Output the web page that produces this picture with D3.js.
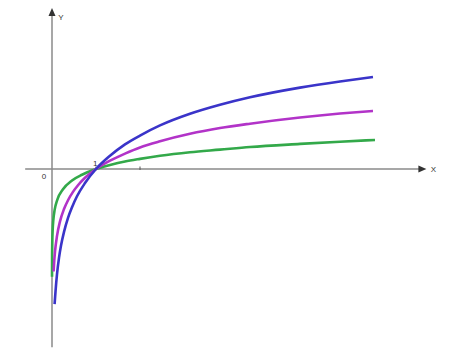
<!DOCTYPE html>
<html><head><meta charset="utf-8">
<script src="https://cdn.jsdelivr.net/npm/d3@7"></script>
<style>html,body{margin:0;padding:0;background:#fff;}</style>
</head><body>
<svg id="c" width="451" height="361"></svg>
<script>
// values (data units)
const blueX = [0.059,0.080,0.114,0.159,0.205,0.273,0.364,0.455,0.568,0.75,1.0,1.318,1.659,2.0,2.455,3.136,3.818,4.5,5.636,6.545,7.295];
const blueY = [-3.07,-2.78,-2.39,-2.02,-1.74,-1.43,-1.11,-0.87,-0.62,-0.32,0,0.30,0.56,0.76,0.99,1.255,1.46,1.63,1.85,1.99,2.09];
const magentaX = [0.036,0.052,0.068,0.114,0.182,0.273,0.364,0.477,0.591,0.75,1.0,1.318,1.659,2.0,2.455,3.136,3.818,4.5,5.636,6.545,7.295];
const magentaY = [-2.33,-2.07,-1.88,-1.52,-1.19,-0.91,-0.71,-0.52,-0.37,-0.20,0,0.19,0.35,0.49,0.63,0.80,0.93,1.03,1.17,1.26,1.32];
const greenX = [0.0006,0.002,0.006,0.015,0.03,0.06,0.12,0.25,0.455,0.682,1.0,1.318,1.659,2.0,2.455,3.136,3.818,4.5,5.636,6.545,7.341];
const greenY = [-2.45,-2.05,-1.69,-1.39,-1.16,-0.93,-0.70,-0.46,-0.26,-0.13,0,0.09,0.17,0.23,0.30,0.38,0.44,0.50,0.57,0.62,0.66];
const xTicks = [1, 2];
const tickLabels = ["0", "1"];
const axisLabels = ["X", "Y"];

const svg = d3.select("#c");
const x = d3.scaleLinear().domain([0, 8]).range([52, 404]);
const y = d3.scaleLinear().domain([-4, 4]).range([345, -7]);

const axisColor = "#8a8a8a";
// x axis
svg.append("line").attr("x1", x(-0.61)).attr("x2", x(8.35)).attr("y1", y(0)).attr("y2", y(0))
  .attr("stroke", axisColor).attr("stroke-width", 1.5);
// y axis
svg.append("line").attr("x1", x(0)).attr("x2", x(0)).attr("y1", y(-4.05)).attr("y2", y(3.5))
  .attr("stroke", axisColor).attr("stroke-width", 1.5);
// arrowheads
const ax = x(8.35), ay = y(0);
svg.append("path").attr("d", `M${ax+7},${ay} L${ax-1},${ay-3.5} L${ax-1},${ay+3.5} Z`).attr("fill", "#333");
const bx = x(0), by = y(3.5);
svg.append("path").attr("d", `M${bx},${by-7} L${bx-3.5},${by+1} L${bx+3.5},${by+1} Z`).attr("fill", "#333");

// ticks
svg.selectAll(".tk").data(xTicks).enter().append("line")
  .attr("x1", d => x(d)).attr("x2", d => x(d)).attr("y1", y(0) - 2.5).attr("y2", y(0) + 1)
  .attr("stroke", "#555").attr("stroke-width", 1);

const font = "Liberation Sans, Arial, sans-serif";
svg.append("text").attr("x", x(-0.18)).attr("y", y(0) + 10).attr("text-anchor", "middle")
  .attr("font-family", font).attr("font-size", 8).attr("fill", "#333").text(tickLabels[0]);
svg.append("text").attr("x", x(0.98)).attr("y", y(0) - 3).attr("text-anchor", "middle")
  .attr("font-family", font).attr("font-size", 8).attr("fill", "#333").text(tickLabels[1]);
svg.append("text").attr("x", x(8.35) + 14).attr("y", y(0) + 3).attr("text-anchor", "middle")
  .attr("font-family", font).attr("font-size", 8).attr("fill", "#333").text(axisLabels[0]);
svg.append("text").attr("x", x(0) + 9).attr("y", y(3.5) + 5).attr("text-anchor", "middle")
  .attr("font-family", font).attr("font-size", 8).attr("fill", "#333").text(axisLabels[1]);

const line = d3.line().x(d => x(d[0])).y(d => y(d[1])).curve(d3.curveMonotoneX);
const series = [
  {xs: greenX, ys: greenY, color: "#33a94a"},
  {xs: magentaX, ys: magentaY, color: "#b233c8"},
  {xs: blueX, ys: blueY, color: "#3a34c9"}
];
series.forEach(s => {
  svg.append("path").datum(d3.zip(s.xs, s.ys)).attr("d", line)
    .attr("fill", "none").attr("stroke", s.color).attr("stroke-width", 2.6)
    .attr("stroke-linejoin", "round");
});
</script>
</body></html>
